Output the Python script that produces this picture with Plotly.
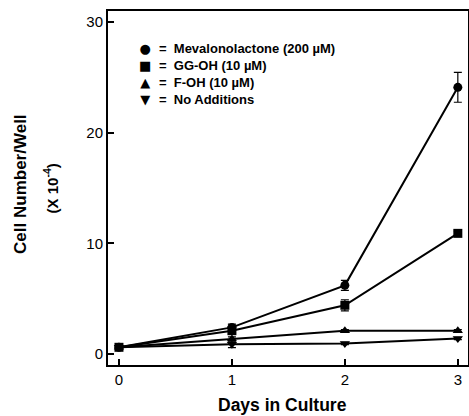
import plotly.graph_objects as go

days = [0, 1, 2, 3]
meva = [0.6, 2.4, 6.2, 24.1]
meva_err = [0.1, 0.3, 0.45, 1.35]
ggoh = [0.6, 2.1, 4.4, 10.9]
ggoh_err = [0.1, 0.3, 0.5, 0.2]
foh = [0.6, 1.35, 2.1, 2.1]
foh_err = [0.1, 0.2, 0.1, 0.1]
noadd = [0.6, 0.87, 0.95, 1.4]
noadd_err = [0.1, 0.3, 0.1, 0.1]

names = ["Mevalonolactone (200 µM)", "GG-OH (10 µM)", "F-OH (10 µM)", "No Additions"]
key_glyphs = ["●", "■", "▲", "▼"]
symbols = ["circle", "square", "triangle-up", "triangle-down"]
values = [meva, ggoh, foh, noadd]
errors = [meva_err, ggoh_err, foh_err, noadd_err]

fig = go.Figure()
for name, ys, err, sym in zip(names, values, errors, symbols):
    fig.add_trace(go.Scatter(
        x=days, y=ys, mode="lines+markers", name=name,
        line=dict(color="black", width=2),
        marker=dict(symbol=sym, size=9, color="black"),
        error_y=dict(type="data", array=err, color="black", thickness=1.2, width=4),
        showlegend=False, cliponaxis=False,
    ))

FONT = "Liberation Sans, Arial, sans-serif"
fig.update_layout(
    width=469, height=416,
    margin=dict(l=108, r=1, t=11, b=51),
    paper_bgcolor="white", plot_bgcolor="white",
    font=dict(family=FONT, color="black", size=15),
    xaxis=dict(range=[-0.097, 3.09], tickvals=[0, 1, 2, 3], ticks="inside", ticklen=6,
               tickwidth=1.5, tickcolor="black", showline=True, linecolor="black",
               linewidth=2, mirror=True, showgrid=False, zeroline=False,
               automargin=False, tickfont=dict(size=15)),
    yaxis=dict(range=[-1.0, 31.0], tickvals=[0, 10, 20, 30], ticks="inside", ticklen=6,
               tickwidth=1.5, tickcolor="black", showline=True, linecolor="black",
               linewidth=2, mirror=True, showgrid=False, zeroline=False,
               automargin=False, tickfont=dict(size=15)),
    annotations=[
        dict(text="<b>Cell Number/Well</b>", xref="paper", yref="paper", x=-0.245, y=0.511,
             xanchor="center", yanchor="middle", textangle=-90, showarrow=False,
             font=dict(size=17)),
        dict(text="<b>(X 10<sup>-4</sup>)</b>", xref="paper", yref="paper", x=-0.16, y=0.50,
             xanchor="center", yanchor="middle", textangle=-90, showarrow=False,
             font=dict(size=15)),
        dict(text="<b>Days in Culture</b>", xref="paper", yref="paper", x=0.485, y=-0.112,
             xanchor="center", yanchor="middle", showarrow=False,
             font=dict(size=17.5)),
        dict(text="<br>".join(key_glyphs), xref="paper", yref="paper", x=0.1028, y=0.822,
             xanchor="center", yanchor="middle", align="center", showarrow=False,
             font=dict(size=13, family="DejaVu Sans")),
        dict(text="<br>".join("<b>=  " + n + "</b>" for n in names), xref="paper", yref="paper",
             x=0.136, y=0.822, xanchor="left", yanchor="middle", align="left", showarrow=False,
             font=dict(size=13)),
    ],
)
fig.write_html("out.html", config={"displayModeBar": False},
               post_script="document.body.style.margin='0';document.body.style.overflow='hidden';")
